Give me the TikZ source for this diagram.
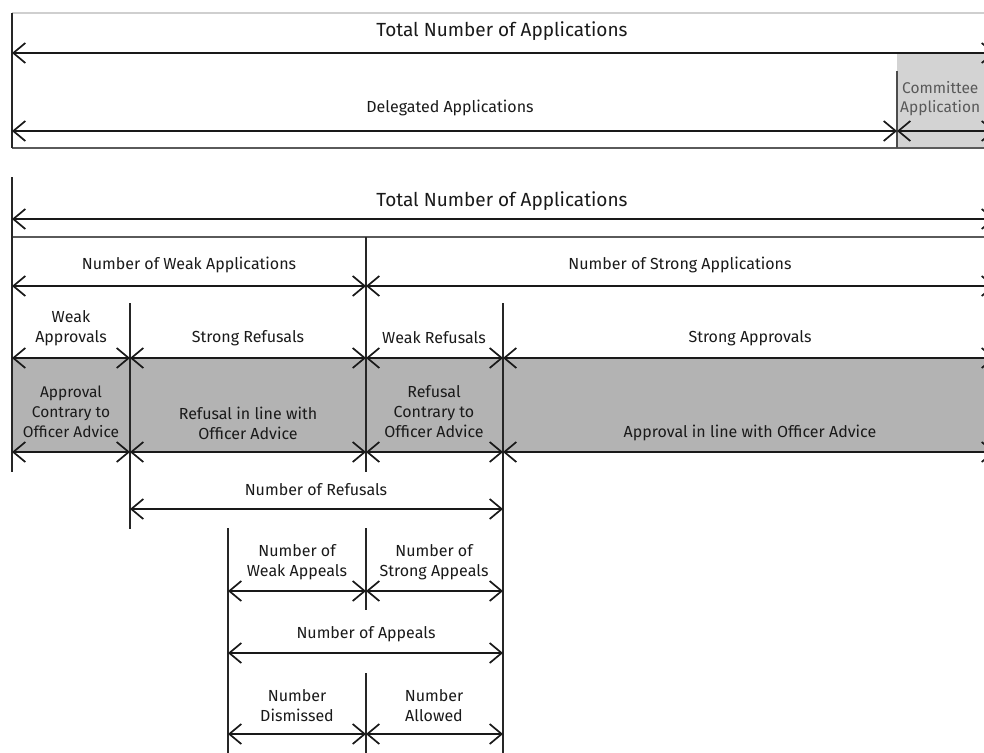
\documentclass[tikz,border=0pt]{standalone}
\usepackage{fontspec}
\setmainfont{Fira Sans}
\usetikzlibrary{arrows.meta}
\definecolor{txt}{HTML}{1A1A1A}
\definecolor{lightband}{HTML}{D3D3D3}
\definecolor{darkband}{HTML}{B3B3B3}
\definecolor{sepline}{HTML}{5A5A5A}
\definecolor{topline}{HTML}{CFCFCF}
\tikzset{
  barb/.tip={Straight Barb[length=12pt,width=20pt]},
  dim/.style={draw=black!90, line width=1.7pt, barb-barb},
  sep/.style={draw=sepline, line width=1.6pt},
  vline/.style={draw=black!85, line width=1.6pt},
  lbl/.style={text=txt, align=center, inner sep=0pt, font=\fontsize{16}{20}\selectfont},
  big/.style={lbl, font=\fontsize{19}{22}\selectfont},
}
\begin{document}
\begin{tikzpicture}[x=1pt,y=-1pt]
\useasboundingbox (0,0) rectangle (984,752);
\fill[white] (0,0) rectangle (984,752);
\clip (0,0) rectangle (984,752);

% ---------- panel 1 ----------
\coordinate (p1tl) at (12,13);   \coordinate (p1tr) at (990,13);
\coordinate (p1bl) at (12,148);  \coordinate (p1br) at (990,148);
\coordinate (t1L) at (12,53);    \coordinate (t1R) at (995,53);
\coordinate (d1L) at (12,131);   \coordinate (d1M) at (897,131); \coordinate (d1R) at (995,131);
\coordinate (cvT) at (897,71);   \coordinate (cvB) at (897,148);

\fill[lightband] (897,53) rectangle (990,148);
\draw[draw=topline, line width=1.5pt] (p1tl) -- (p1tr);
\draw[sep] (p1bl) -- (p1br);
\draw[vline] (p1tl) -- (p1bl);
\draw[vline, draw=black!70] (cvT) -- (cvB);
\draw[dim] (t1L) -- (t1R);
\draw[dim] (d1L) -- (d1M);
\draw[dim] (d1M) -- (d1R);

\node[big] (ttot1) at (502,31) {Total Number of Applications};
\node[lbl] (tdel) at (450,108) {Delegated Applications};
\node[lbl, anchor=west, text=black!65, font=\fontsize{15.5}{20}\selectfont] (tcom1) at (902,88) {Committee};
\node[lbl, anchor=west, text=black!65, font=\fontsize{15.5}{20}\selectfont] (tcom2) at (900,108) {Application};

% ---------- panel 2 ----------
\coordinate (v12T) at (12,177);  \coordinate (v12B) at (12,472);
\coordinate (t2L) at (12,219);   \coordinate (t2R) at (995,219);
\coordinate (s2L) at (12,237);   \coordinate (s2R) at (990,237);
\coordinate (v366T) at (366,237); \coordinate (v366B) at (366,472);
\coordinate (waL) at (12,286);   \coordinate (waM) at (366,286); \coordinate (waR) at (995,286);

\fill[darkband] (12,358) rectangle (990,452);

\draw[sep] (s2L) -- (s2R);
\draw[vline] (v12T) -- (v12B);
\draw[vline] (v366T) -- (v366B);
\draw[dim] (t2L) -- (t2R);
\draw[dim] (waL) -- (waM);
\draw[dim] (waM) -- (waR);

\node[big] (ttot2) at (502,201) {Total Number of Applications};
\node[lbl] (tweak) at (189,265) {Number of Weak Applications};
\node[lbl] (tstrong) at (680,265) {Number of Strong Applications};

% band dividers
\coordinate (v130T) at (130,303); \coordinate (v130B) at (130,529);
\coordinate (v503T) at (503,303); \coordinate (v503B) at (503,760);
\draw[vline] (v130T) -- (v130B);
\draw[vline] (v503T) -- (v503B);

\foreach \yy/\nm in {358/a,452/b}{
  \coordinate (\nm0) at (12,\yy);
  \coordinate (\nm1) at (130,\yy);
  \coordinate (\nm2) at (366,\yy);
  \coordinate (\nm3) at (503,\yy);
  \coordinate (\nm4) at (995,\yy);
  \draw[dim] (\nm0) -- (\nm1);
  \draw[dim] (\nm1) -- (\nm2);
  \draw[dim] (\nm2) -- (\nm3);
  \draw[dim] (\nm3) -- (\nm4);
}

\node[lbl] (twa) at (71,328) {Weak\\Approvals};
\node[lbl] (tsr) at (248,338) {Strong Refusals};
\node[lbl] (twr) at (434,338) {Weak Refusals};
\node[lbl] (tsa) at (750,338) {Strong Approvals};

\node[lbl, font=\fontsize{15.5}{20}\selectfont] (bac) at (71,412) {Approval\\Contrary to\\Officer Advice};
\node[lbl] (bri) at (248,423) {Refusal in line with\\Officer Advice};
\node[lbl] (brc) at (434,412) {Refusal\\Contrary to\\Officer Advice};
\node[lbl] (bai) at (750,433) {Approval in line with Officer Advice};

% refusals
\coordinate (rfL) at (130,509); \coordinate (rfR) at (503,509);
\draw[dim] (rfL) -- (rfR);
\node[lbl] (trf) at (316,490) {Number of Refusals};

% appeals
\coordinate (v228T) at (228,528); \coordinate (v228B) at (228,760);
\coordinate (ap1T) at (366,528);  \coordinate (ap1B) at (366,610);
\coordinate (ap2T) at (366,673);  \coordinate (ap2B) at (366,760);
\draw[vline] (v228T) -- (v228B);
\draw[vline] (ap1T) -- (ap1B);
\draw[vline] (ap2T) -- (ap2B);

\coordinate (wsL) at (228,591); \coordinate (wsM) at (366,591); \coordinate (wsR) at (503,591);
\draw[dim] (wsL) -- (wsM);
\draw[dim] (wsM) -- (wsR);
\node[lbl] (twap) at (297,562) {Number of\\Weak Appeals};
\node[lbl] (tsap) at (434,562) {Number of\\Strong Appeals};

\coordinate (apL) at (228,653); \coordinate (apR) at (503,653);
\draw[dim] (apL) -- (apR);
\node[lbl] (tap) at (366,634) {Number of Appeals};

\coordinate (daL) at (228,734); \coordinate (daM) at (366,734); \coordinate (daR) at (503,734);
\draw[dim] (daL) -- (daM);
\draw[dim] (daM) -- (daR);
\node[lbl] (tdis) at (297,706) {Number\\Dismissed};
\node[lbl] (tall) at (434,706) {Number\\Allowed};
\end{tikzpicture}
\end{document}
